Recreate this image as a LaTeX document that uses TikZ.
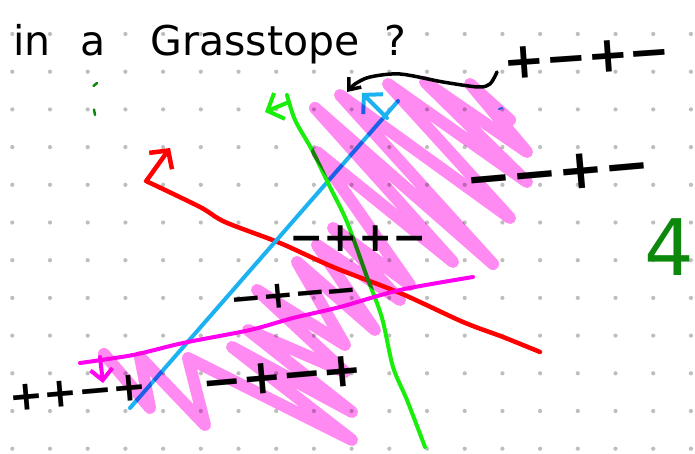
\documentclass[tikz,border=0pt]{standalone}
\usepackage{fontspec}
\setmainfont{DejaVu Sans}
\usetikzlibrary{arrows.meta}

\definecolor{dotgray}{HTML}{BEBEBE}
\definecolor{scribble}{HTML}{FF8AF2}
\definecolor{penred}{HTML}{FF0000}
\definecolor{penblue}{HTML}{1CB2F2}
\definecolor{pengreen}{HTML}{18EE0A}
\definecolor{penmagenta}{HTML}{FF00F0}
\definecolor{inkgreen}{HTML}{0C880C}

\begin{document}
\begin{tikzpicture}[x=1pt, y=-1pt,
    pen/.style={line width=4.5pt, line cap=round, line join=round},
    normal/.style={pen, -{Straight Barb[length=13pt, width=28pt]}},
    signs/.style={inner sep=0pt, font=\bfseries\fontsize{#1}{#1}\selectfont},
    hatch/.style={scribble, line width=12pt, line cap=round, line join=round}
  ]
  \useasboundingbox (0,0) rectangle (695,454);
  \clip (0,0) rectangle (695,454);
  \fill[white] (0,0) rectangle (695,454);

  % dot grid
  \foreach \i in {0,...,18}
    \foreach \j in {0,...,11}
      \fill[dotgray] (12.3+37.7*\i, 34+37.7*\j) circle[radius=2.1pt];

  % title and stray marks
  \node[inner sep=0pt, anchor=base west, font=\fontsize{41}{41}\selectfont] (title) at (13,56)
    {in\hspace{30pt}a\hspace{45pt}Grasstope\hspace{25pt}?};
  \draw[inkgreen, line width=2.5pt, line cap=round] (97,83) -- (93.5,86);
  \draw[inkgreen, line width=2.5pt, line cap=round] (94,109.5) -- (95,115);
  \draw[penblue, line width=2pt, line cap=round] (499,109) -- (502,108);
  \node[inner sep=0pt, anchor=north west, text=inkgreen, font=\fontsize{78}{78}\selectfont] (four) at (644,218) {4};

  % the four hyperplanes with their normals
  \draw[pen, penred] plot[smooth] coordinates {(146,181) (200,207) (225,222) (280,243) (333,267) (400,293) (463,322) (503,337) (540,352)};
  \draw[normal, penred] (147,180) -- (170,148);
  \draw[pen, penblue, line width=4pt] (130,408) -- (398,101);
  \draw[normal, penblue, line width=4pt] (387,118) -- (362,93);
  \draw[pen, pengreen, line width=4pt] plot[smooth] coordinates {(287,95) (295,120) (312,150) (330,187) (347,222) (367,277) (382,318) (393,367) (407,400) (425,447)};
  \draw[normal, pengreen, line width=4pt] (289,102) -- (265,112);
  \draw[pen, penmagenta, line width=4pt] plot[smooth] coordinates {(80,363) (133,355) (183,343) (250,330) (293,318) (340,307) (400,290) (473,277)};
  \draw[normal, penmagenta, line width=4pt, -{Straight Barb[length=11pt, width=22pt]}] (100,357) -- (103,383);

  % sign vectors
  \node[signs=50, rotate=4] (s1) at (587,58) {+−+−};
  \node[signs=55, rotate=5] (s2) at (558,173) {−−+−};
  \node[signs=41] (s3) at (358,239) {−++−};
  \node[signs=38, rotate=5] (s4) at (294,295) {−+−−};
  \node[signs=41, rotate=5] (s5) at (78,393) {++−+};
  \node[signs=48, rotate=5] (s6) at (282,377) {−+−+};
  \draw[pen, line width=3.5pt, -{Straight Barb[length=10pt, width=16pt]}]
    plot[smooth] coordinates {(497,72) (490,84) (478,87) (443,82) (400,74) (370,77) (355,84) (347,92)};

  % shaded cell
  \begin{scope}[blend mode=multiply]
    \draw[hatch] (104,354) -- (150,408) -- (140,357) -- (205,425) -- (188,358) -- (352,440)
      -- (232,347) -- (352,412) -- (248,330) -- (345,372) -- (257,290) -- (345,345)
      -- (297,262) -- (375,330) -- (317,245) -- (400,300) -- (333,228) -- (410,285)
      -- (317,152) -- (453,262) -- (315,108) -- (493,264) -- (340,95) -- (510,218)
      -- (388,84) -- (527,182) -- (425,82) -- (527,152) -- (470,84) -- (510,120);
  \end{scope}
\end{tikzpicture}
\end{document}
